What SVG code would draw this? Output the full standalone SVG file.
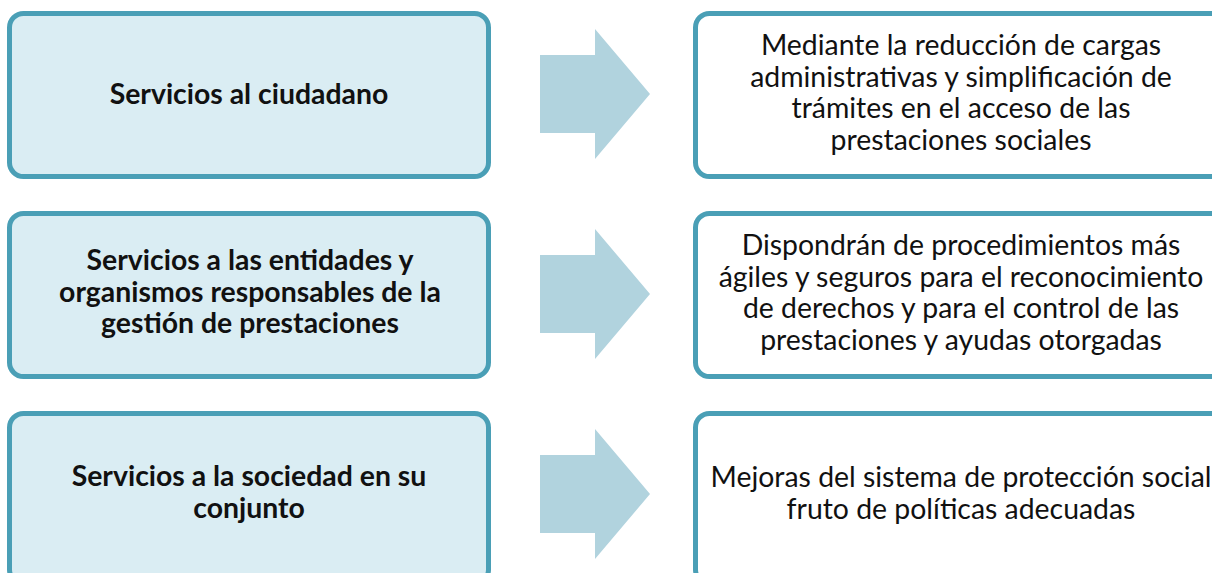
<svg xmlns="http://www.w3.org/2000/svg" width="1212" height="573" viewBox="0 0 1212 573">
<style>
.src{fill:#daedf3;stroke:#4a9fb6;stroke-width:5}
.dst{fill:#ffffff;stroke:#4a9fb6;stroke-width:5}
.arr{fill:#b1d3de}
text{font-family:Lato,"Open Sans",sans-serif;font-size:28.4px;fill:#111;text-anchor:middle}
.b{font-weight:bold}
</style>
<rect width="1212" height="573" fill="#fff"/>
<g id="connectors">
<polygon class="arr" points="540,55 595,55 595,29 650,94 595,159 595,133 540,133"/>
<polygon class="arr" points="540,255 595,255 595,229 650,294 595,359 595,333 540,333"/>
<polygon class="arr" points="540,455 595,455 595,429 650,494 595,559 595,533 540,533"/>
</g>
<g id="n1">
<rect class="src" x="9.5" y="13.5" width="479" height="163" rx="14"/>
<text class="b" x="249" y="104">Servicios al ciudadano</text>
</g>
<g id="n2">
<rect class="src" x="9.5" y="213.5" width="479" height="163" rx="14"/>
<text class="b" x="250" y="270">Servicios a las entidades y</text>
<text class="b" x="250" y="301.5">organismos responsables de la</text>
<text class="b" x="250" y="333">gestión de prestaciones</text>
</g>
<g id="n3">
<rect class="src" x="9.5" y="413.5" width="479" height="170" rx="14"/>
<text class="b" x="249" y="486">Servicios a la sociedad en su</text>
<text class="b" x="249" y="518">conjunto</text>
</g>
<g id="r1">
<rect class="dst" x="695.5" y="13.5" width="540" height="163" rx="14"/>
<text x="961" y="55">Mediante la reducción de cargas</text>
<text x="961" y="86.5">administrativas y simplificación de</text>
<text x="961" y="118">trámites en el acceso de las</text>
<text x="961" y="149.5">prestaciones sociales</text>
</g>
<g id="r2">
<rect class="dst" x="695.5" y="213.5" width="540" height="163" rx="14"/>
<text x="961" y="255">Dispondrán de procedimientos más</text>
<text x="961" y="286.5">ágiles y seguros para el reconocimiento</text>
<text x="961" y="318">de derechos y para el control de las</text>
<text x="961" y="349.5">prestaciones y ayudas otorgadas</text>
</g>
<g id="r3">
<rect class="dst" x="695.5" y="413.5" width="540" height="170" rx="14"/>
<text x="961" y="487">Mejoras del sistema de protección social</text>
<text x="961" y="518.5">fruto de políticas adecuadas</text>
</g>
</svg>
